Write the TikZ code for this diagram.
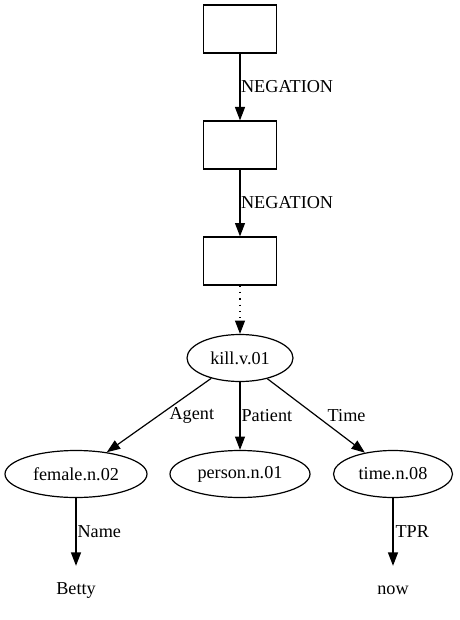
\documentclass[tikz,border=0pt]{standalone}
\usepackage{fontspec}
\setmainfont{Liberation Serif}
\usetikzlibrary{arrows.meta,shapes.geometric}
\begin{document}
\begin{tikzpicture}[x=1pt,y=-1pt,
  every node/.style={font=\fontsize{18.2}{20}\selectfont},
  drs/.style={draw,line width=1.2pt,rectangle,minimum width=73pt,minimum height=48pt,inner sep=0pt},
  concept/.style={draw,line width=1.2pt,ellipse,inner sep=0pt,minimum height=47pt},
  plain/.style={inner sep=0pt,minimum height=48pt},
  rel/.style={line width=1.2pt,-{Triangle[length=13.4pt,width=10pt]}},
  lbl/.style={inner sep=0pt,anchor=west}]
\useasboundingbox (0,0) rectangle (459,620);
\node[drs] (b1) at (240,29) {};
\node[drs] (b2) at (240,145) {};
\node[drs] (b3) at (240,261) {};
\node[concept,minimum width=106pt] (kill) at (240,358) {kill.v.01};
\node[concept,minimum width=142pt] (female) at (76,474) {female.n.02};
\node[concept,minimum width=140pt] (person) at (240,474) {person.n.01};
\node[concept,minimum width=119pt] (time) at (393,474) {time.n.08};
\node[plain] (betty) at (76,590) {Betty};
\node[plain] (now) at (393,590) {now};
\draw[rel] (b1) -- node[lbl,pos=.5,xshift=0.5pt] {NEGATION} (b2);
\draw[rel] (b2) -- node[lbl,pos=.5,xshift=0.5pt] {NEGATION} (b3);
\draw[rel,dash pattern=on 1.3pt off 5pt] (b3) -- (kill);
\draw[rel] (kill) -- node[lbl,pos=.5,xshift=10pt] {Agent} (female);
\draw[rel] (kill) -- node[lbl,pos=.5,xshift=1pt] {Patient} (person);
\draw[rel] (kill) -- node[lbl,pos=.5,xshift=11pt] {Time} (time);
\draw[rel] (female) -- node[lbl,pos=.5,xshift=1pt] {Name} (betty);
\draw[rel] (time) -- node[lbl,pos=.5,xshift=2pt] {TPR} (now);
\end{tikzpicture}
\end{document}
